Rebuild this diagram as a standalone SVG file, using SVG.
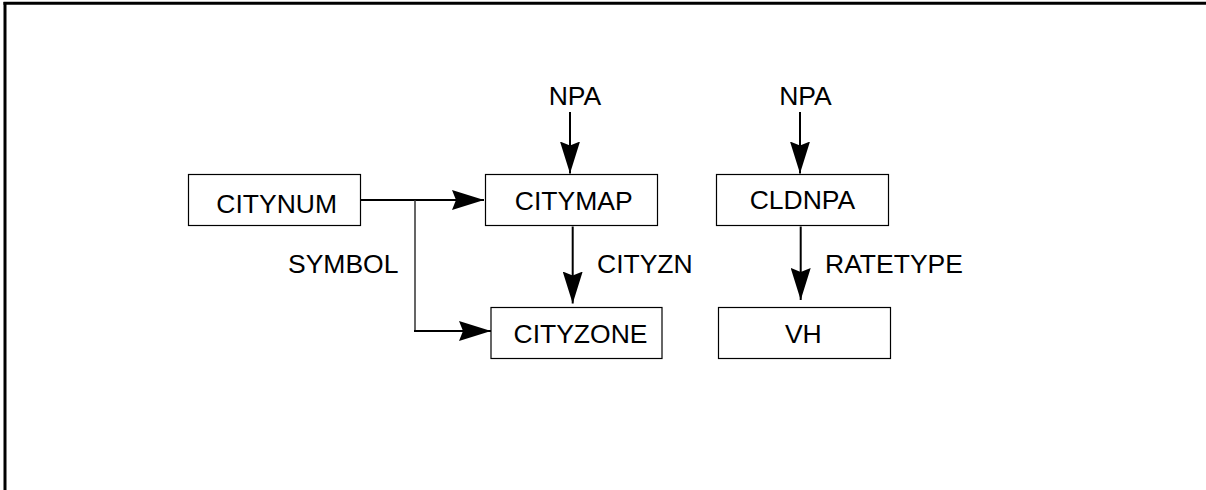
<svg xmlns="http://www.w3.org/2000/svg" width="1206" height="490" viewBox="0 0 1206 490">
<style>
.box{fill:#fff;stroke:#000;stroke-width:1.2}
.t{font-family:"Liberation Sans",Arial,sans-serif;font-size:26.5px;fill:#000}
.c{text-anchor:middle}
.ln{fill:none;stroke:#000;stroke-width:2}
.thin{fill:none;stroke:#333;stroke-width:1.5}
</style>
<defs>
<marker id="ah" markerUnits="userSpaceOnUse" viewBox="0 0 32 20" refX="32" refY="10" markerWidth="32" markerHeight="20" orient="auto">
<path d="M0,0 L32,10 L0,20 L4,10 z" fill="#000"/>
</marker>
</defs>
<g id="frame">
<line x1="3.5" y1="3.2" x2="1206" y2="3.2" stroke="#000" stroke-width="3"/>
<line x1="5" y1="2" x2="5" y2="490" stroke="#000" stroke-width="3"/>
</g>
<g id="connectors">
<line class="ln" x1="361" y1="200" x2="484" y2="200" marker-end="url(#ah)"/>
<polyline class="thin" points="415,200 415,331 440,331"/>
<line class="ln" x1="414" y1="331" x2="491" y2="331" marker-end="url(#ah)"/>
<line class="ln" x1="570" y1="112" x2="570" y2="173.5" marker-end="url(#ah)"/>
<line class="ln" x1="572.7" y1="226.5" x2="572.7" y2="303.5" marker-end="url(#ah)"/>
<line class="ln" x1="800" y1="112" x2="800" y2="173.5" marker-end="url(#ah)"/>
<line class="ln" x1="800.7" y1="226.5" x2="800.7" y2="300" marker-end="url(#ah)"/>
<text class="t" x="288" y="273">SYMBOL</text>
<text class="t" x="597" y="273">CITYZN</text>
<text class="t" x="825" y="273">RATETYPE</text>
</g>
<g id="npa1"><text class="t c" x="575" y="105">NPA</text></g>
<g id="npa2"><text class="t c" x="805.5" y="105">NPA</text></g>
<g id="citynum">
<rect class="box" x="188.5" y="174.5" width="172" height="51"/>
<text class="t c" x="276.7" y="213">CITYNUM</text>
</g>
<g id="citymap">
<rect class="box" x="485.5" y="174.5" width="172" height="51"/>
<text class="t c" x="573.7" y="210">CITYMAP</text>
</g>
<g id="cityzone">
<rect class="box" x="491" y="307.5" width="171" height="51"/>
<text class="t c" x="580.5" y="343">CITYZONE</text>
</g>
<g id="cldnpa">
<rect class="box" x="716.5" y="174.5" width="172" height="51"/>
<text class="t c" x="802.5" y="209">CLDNPA</text>
</g>
<g id="vh">
<rect class="box" x="718.5" y="307.5" width="172" height="51"/>
<text class="t c" x="803.3" y="343">VH</text>
</g>
</svg>
